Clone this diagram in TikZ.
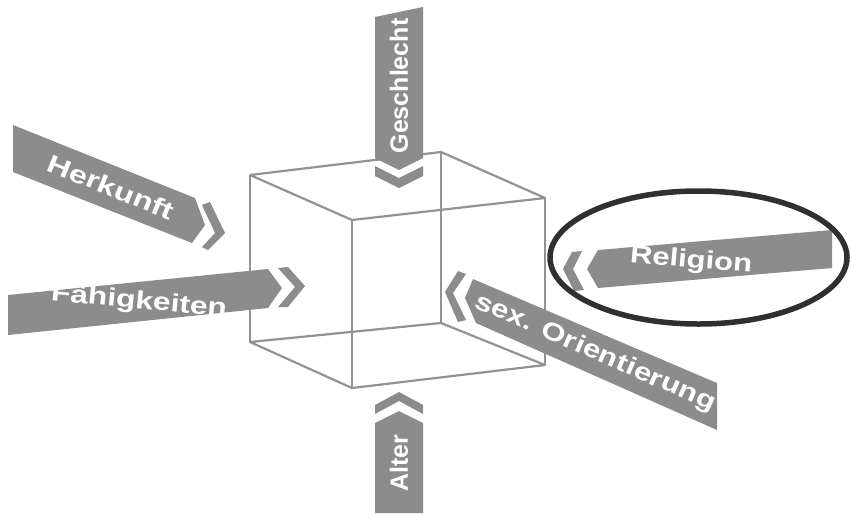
\documentclass[tikz,border=0pt]{standalone}
\usepackage{fontspec}
\setmainfont{Liberation Sans}
\definecolor{bannergray}{HTML}{8C8C8C}
\definecolor{cubegray}{HTML}{929292}
\definecolor{ringgray}{HTML}{303030}
\begin{document}
\begin{tikzpicture}[x=1pt,y=-1pt,
  banner/.style={fill=bannergray},
  chev/.style={fill=bannergray},
  cubeline/.style={draw=cubegray,line width=2.2pt,line join=round},
  lbl/.style={text=white,font=\fontsize{25}{28}\selectfont\bfseries,inner sep=0pt}]
\fill[white] (0,0) rectangle (851,515);
\useasboundingbox (0,0) rectangle (851,515);
% cube
\coordinate (P1) at (250,175);
\coordinate (P2) at (441,152);
\coordinate (P3) at (545,198);
\coordinate (P4) at (352,220);
\coordinate (P5) at (250,342);
\coordinate (P6) at (441,323);
\coordinate (P7) at (545,365);
\coordinate (P8) at (352,388);
\draw[cubeline] (P1)--(P2)--(P3)--(P4)--cycle;
\draw[cubeline] (P5)--(P6)--(P7)--(P8)--cycle;
\draw[cubeline] (P1)--(P5) (P2)--(P6) (P3)--(P7) (P4)--(P8);
% Geschlecht
\fill[banner] (375,17)--(423,7)--(423,158)--(399,170)--(375,158)--cycle;
\fill[chev] (375,166)--(399,178)--(423,166)--(423,176)--(399,188)--(375,176)--cycle;
\node[lbl,rotate=90] (geschlecht) at (399,86) {Geschlecht};
% Alter
\fill[banner] (375,423)--(399,411)--(423,423)--(423,513)--(375,513)--cycle;
\fill[chev] (375,405)--(399,392)--(423,405)--(423,414)--(399,401)--(375,414)--cycle;
\node[lbl,rotate=90] (alter) at (399,463) {Alter};
% Herkunft
\fill[banner] (13,125)--(195,198)--(205,225)--(192,243)--(13,172)--cycle;
\fill[chev] (202,205)--(210,202)--(225,233)--(208,250)--(202,247)--(215,233)--cycle;
\node[lbl,rotate=-22] (herkunft) at (111,187) {\scalebox{1.3}[1]{Herkunft}};
% Faehigkeiten
\fill[banner] (8,295)--(268,269)--(282,288)--(268,308)--(8,335)--cycle;
\fill[chev] (278,268)--(288,267)--(305,286)--(288,307)--(278,307)--(295,287)--cycle;
\node[lbl,rotate=-5.3] (faehig) at (139,302) {\scalebox{1.27}[1]{Fähigkeiten}};
% sex. Orientierung
\fill[banner] (473,279)--(717,383)--(717,430)--(476,323)--(465,298)--cycle;
\fill[chev] (458,271)--(466,274)--(453,293)--(466,320)--(458,322)--(445,292)--cycle;
\node[lbl,rotate=-23.5] (sexor) at (595,353) {\scalebox{1.25}[1]{sex. Orientierung}};
% Religion
\fill[banner] (598,250)--(832,230)--(832,268)--(598,288)--(587,269)--cycle;
\fill[chev] (572,252)--(582,251)--(573,269)--(584,290)--(574,291)--(563,269)--cycle;
\node[lbl,rotate=-4.9] (religion) at (691,261) {\scalebox{1.24}[1]{Religion}};
% ring
\draw[ringgray,line width=5.5pt] (698.5,257.5) ellipse [x radius=148.5,y radius=66.5];
\end{tikzpicture}
\end{document}
